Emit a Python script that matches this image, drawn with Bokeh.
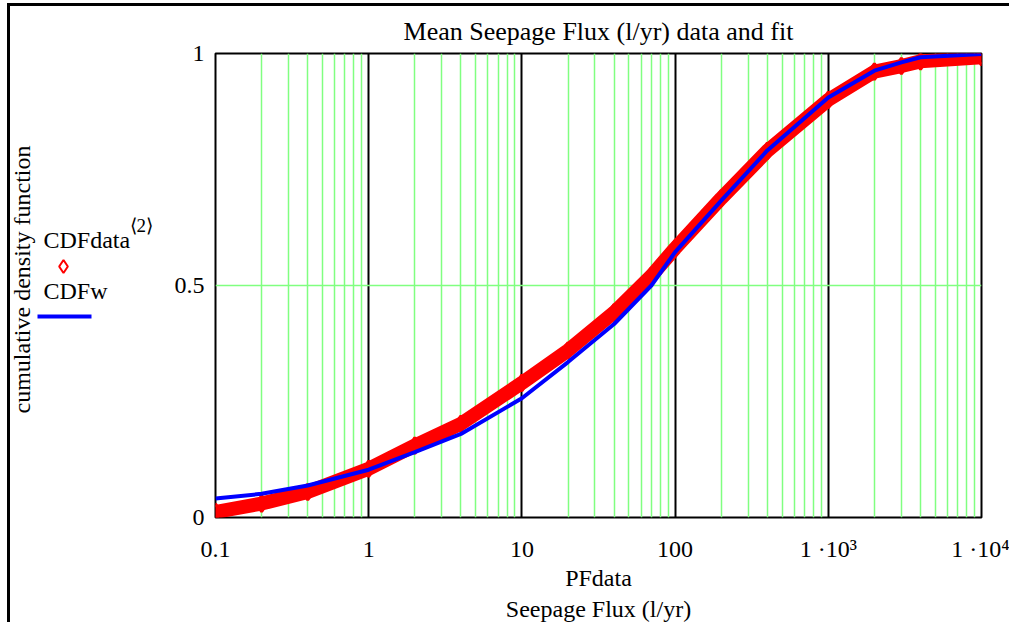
import numpy as np
from bokeh.plotting import figure
from bokeh.layouts import row
from bokeh.models import FixedTicker, Range1d, Title
from bokeh.core.properties import value
from bokeh.embed import file_html
from bokeh.resources import INLINE

# ---- data ----
flux = [0.1, 0.2, 0.4, 1, 2, 4, 10, 20, 40, 70, 100, 200, 400, 1000, 2000, 3000, 4000, 10000]
cdf_data = [0.012, 0.030, 0.055, 0.105, 0.155, 0.202, 0.290, 0.360, 0.442, 0.521, 0.580,
            0.688, 0.790, 0.900, 0.961, 0.973, 0.983, 0.992]
cdf_fit = [0.041, 0.051, 0.069, 0.103, 0.141, 0.180, 0.257, 0.335, 0.417, 0.500, 0.572,
           0.683, 0.791, 0.905, 0.963, 0.981, 0.992, 0.999]

x_ticks = [0.1, 1, 10, 100, 1000, 10000]
x_tick_labels = ["0.1", "1", "10", "100", "1 \u00b710\u00b3", "1 \u00b710\u2074"]
y_ticks = [0, 0.5, 1]
y_tick_labels = ["0", "0.5", "1"]

FONT = "Liberation Serif"
GREEN = "#80ff80"

W, H = 1009, 622
OX, OY = 10, 6          # page offset of the layout content (after CSS border)
SPLIT = 160             # page x where the main figure starts
FL, FR, FT, FB = 215, 981, 53, 517  # frame edges in page pixels
CH = H - OY             # content height

# ---------------- left legend figure ----------------
lf = figure(width=SPLIT - OX, height=CH, x_range=Range1d(OX, SPLIT), y_range=Range1d(FB, FT),
            output_backend="svg", toolbar_location=None,
            x_axis_location=None, y_axis_location=None,
            min_border_left=0, min_border_right=0,
            min_border_top=FT - OY, min_border_bottom=H - FB)
lf.outline_line_color = None
lf.xgrid.visible = False
lf.ygrid.visible = False
lf.text(x=[21], y=[279], text=["cumulative density function"], angle=np.pi / 2,
        text_font=value(FONT), text_font_size="24px", text_color="black",
        text_align="center", text_baseline="middle")
lf.text(x=[43, 43], y=[239, 290], text=["CDFdata", "CDFw"],
        text_font=value(FONT), text_font_size="24px", text_color="black",
        text_align="left", text_baseline="middle")
lf.text(x=[129], y=[225], text=["\u27e82\u27e9"],
        text_font=value(FONT), text_font_size="19px", text_color="black",
        text_align="left", text_baseline="middle")
lf.scatter(x=[63], y=[266], marker="diamond", size=13, fill_color=None,
           line_color="red", line_width=2)
lf.segment(x0=[37], y0=[316], x1=[91], y1=[316], line_color="blue", line_width=4)

# ---------------- main plot ----------------
p = figure(width=W - SPLIT, height=CH, x_axis_type="log",
           x_range=Range1d(0.1, 1e4), y_range=Range1d(0, 1),
           output_backend="svg", toolbar_location=None,
           min_border_left=FL - SPLIT, min_border_right=W - FR,
           min_border_top=FT - OY, min_border_bottom=H - FB)
p.background_fill_color = "white"
p.border_fill_color = "white"
p.outline_line_color = "black"
p.outline_line_width = 2

p.title.text = "Mean Seepage Flux (l/yr) data and fit"
p.title.align = "center"
p.title.text_font = FONT
p.title.text_font_size = "26px"
p.title.text_font_style = "normal"
p.title.text_color = "black"
p.title.standoff = 15

minor = [m * 10.0 ** e for e in range(-1, 4) for m in range(2, 10)]
p.xaxis.ticker = FixedTicker(ticks=x_ticks, minor_ticks=minor)
p.xaxis.major_label_overrides = {t: s for t, s in zip(x_ticks, x_tick_labels)}
p.yaxis.ticker = FixedTicker(ticks=y_ticks)
p.yaxis.major_label_overrides = {t: s for t, s in zip(y_ticks, y_tick_labels)}

for ax in (p.xaxis[0], p.yaxis[0]):
    ax.axis_line_color = None
    ax.major_tick_line_color = None
    ax.minor_tick_line_color = None
    ax.major_tick_out = 0
    ax.major_tick_in = 0
    ax.minor_tick_out = 0
    ax.minor_tick_in = 0
    ax.major_label_text_font = FONT
    ax.major_label_text_font_size = "24px"
    ax.major_label_text_color = "black"
p.xaxis.major_label_standoff = 18
p.yaxis.major_label_standoff = 11

p.xaxis.axis_label = "PFdata"
p.xaxis.axis_label_text_font = FONT
p.xaxis.axis_label_text_font_size = "24px"
p.xaxis.axis_label_text_font_style = "normal"
p.xaxis.axis_label_text_color = "black"
p.xaxis.axis_label_standoff = 0
p.add_layout(Title(text="Seepage Flux (l/yr)", align="center", text_font=FONT,
                   text_font_size="24px", text_font_style="normal",
                   text_color="black", standoff=0), "below")

p.xgrid.ticker = FixedTicker(ticks=x_ticks, minor_ticks=minor)
p.xgrid.grid_line_color = "black"
p.xgrid.grid_line_width = 2
p.xgrid.minor_grid_line_color = GREEN
p.xgrid.minor_grid_line_width = 1.5
p.ygrid.ticker = FixedTicker(ticks=[0.5])
p.ygrid.grid_line_color = GREEN
p.ygrid.grid_line_width = 1.5

# data (red diamonds forming a band) and fit (blue)
p.line(flux, cdf_data, line_color="red", line_width=14, line_join="round", line_cap="round")
p.scatter(flux, cdf_data, marker="diamond", size=16, fill_color=None,
          line_color="red", line_width=3)
p.line(flux, cdf_fit, line_color="blue", line_width=4)

layout = row(lf, p, spacing=0,
             styles={"border-top": "3px solid black", "border-left": "3px solid black",
                     "margin-left": "7px", "margin-top": "3px"})
open("out.html", "w").write(file_html(layout, INLINE))
